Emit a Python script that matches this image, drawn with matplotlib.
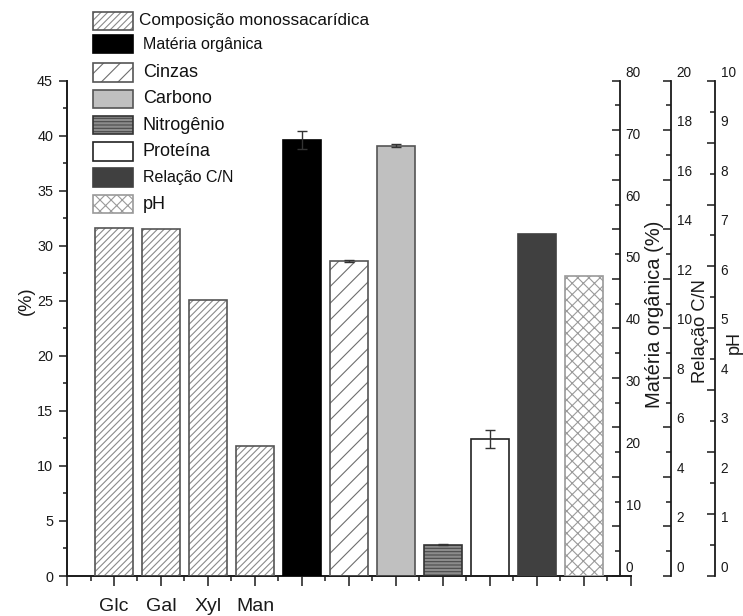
import matplotlib
matplotlib.use("Agg")
import matplotlib.pyplot as plt
import numpy as np
from matplotlib.patches import Rectangle
from matplotlib.ticker import MultipleLocator
from matplotlib.transforms import ScaledTranslation

plt.rcParams["font.family"] = ["Liberation Sans", "DejaVu Sans"]
plt.rcParams["hatch.linewidth"] = 0.8

# ---------------- data ----------------
sugar_labels = ["Glc", "Gal", "Xyl", "Man"]
sugar_pct = [31.6, 31.5, 25.1, 11.8]          # composição monossacarídica (%)

organic_matter = [70.4]                        # matéria orgânica (%) - eixo próprio
organic_matter_err = [1.5]
ash = [28.6]                                   # cinzas (%)
ash_err = [0.1]
carbon = [39.1]                                # carbono (%)
carbon_err = [0.12]
nitrogen = [2.84]                              # nitrogênio (%)
nitrogen_err = [0.05]
protein = [12.45]                              # proteína (%)
protein_err = [0.85]
cn_ratio = [13.8]                              # relação C/N
ph_value = [6.05]                              # pH

series_names = ["Composição monossacarídica", "Matéria orgânica", "Cinzas",
                "Carbono", "Nitrogênio", "Proteína", "Relação C/N", "pH"]

# ---------------- styles ----------------
W = 0.8
styles = {
    "Composição monossacarídica": dict(face="white", hcol="#8a8a8a", hatch="/////", edge="#555555", lw=1.2),
    "Matéria orgânica": dict(face="black", hcol=None, hatch=None, edge="black", lw=1.2),
    "Cinzas": dict(face="white", hcol="#6e6e6e", hatch="//", edge="#555555", lw=1.2),
    "Carbono": dict(face="#c0c0c0", hcol=None, hatch=None, edge="#555555", lw=1.2),
    "Nitrogênio": dict(face="#8c8c8c", hcol="#4a4a4a", hatch="-----", edge="#333333", lw=1.2),
    "Proteína": dict(face="white", hcol=None, hatch=None, edge="#222222", lw=1.2),
    "Relação C/N": dict(face="#404040", hcol=None, hatch=None, edge="#404040", lw=1.2),
    "pH": dict(face="white", hcol="#9a9a9a", hatch="xxx", edge="#9a9a9a", lw=1.2),
}

FW, FH = 743, 616
fig = plt.figure(figsize=(FW / 100, FH / 100), dpi=100)
ax = fig.add_axes([67 / FW, 1 - 576 / FH, 564 / FW, 495.3 / FH])

SPINE_COL = "#1a1a1a"


def draw_bars(axis, xs, hs, name, err=None):
    st = styles[name]
    if st["hatch"]:
        axis.bar(xs, hs, W, color=st["face"], edgecolor=st["hcol"], hatch=st["hatch"],
                 linewidth=0, zorder=2)
    else:
        axis.bar(xs, hs, W, color=st["face"], linewidth=0, zorder=2)
    axis.bar(xs, hs, W, fill=False, edgecolor=st["edge"], linewidth=st["lw"], zorder=3)
    if err is not None:
        axis.errorbar(xs, hs, yerr=err, fmt="none", ecolor="#333333", elinewidth=1.0,
                      capsize=3.5, capthick=1.0, zorder=4)


# positions along the category axis
x_sugar = np.arange(1, len(sugar_pct) + 1)
x_om, x_ash, x_c, x_n, x_prot, x_cn, x_ph = [np.array([v]) for v in range(5, 12)]

ax.set_xlim(0, 12)
ax.set_ylim(0, 45)


def right_axis(pos, ylim, major, minor, lab_step, title, title_xy, title_size):
    tick_ax = ax.twinx()
    tick_ax.set_ylim(*ylim)
    for s in ("top", "left", "bottom"):
        tick_ax.spines[s].set_visible(False)
    tick_ax.spines["right"].set_position(("axes", pos))
    tick_ax.spines["right"].set_linewidth(1.3)
    tick_ax.spines["right"].set_color(SPINE_COL)
    tick_ax.yaxis.set_major_locator(MultipleLocator(major))
    tick_ax.yaxis.set_minor_locator(MultipleLocator(minor))
    tick_ax.tick_params(axis="y", which="major", direction="in", length=6, width=1.1,
                        color=SPINE_COL, labelright=False)
    tick_ax.tick_params(axis="y", which="minor", direction="in", length=3.3, width=1.1,
                        color=SPINE_COL)

    lab_ax = ax.twinx()
    lab_ax.set_ylim(*ylim)
    for s in lab_ax.spines.values():
        s.set_visible(False)
    lab_ax.spines["right"].set_position(("axes", pos))
    vals = np.arange(ylim[0], ylim[1] + lab_step / 2, lab_step)
    lab_ax.set_yticks(vals)
    lab_ax.set_yticklabels([f"{v:g}" for v in vals])
    lab_ax.tick_params(axis="y", length=0, pad=4, labelsize=9.8, labelcolor="#1a1a1a")
    shift = ScaledTranslation(0, 9.5 / 100, fig.dpi_scale_trans)
    for t in lab_ax.get_yticklabels():
        t.set_transform(t.get_transform() + shift)

    tick_ax.set_ylabel(title, fontsize=title_size, color="#1a1a1a")
    lbl = tick_ax.yaxis.label
    lbl.set_rotation_mode("default")
    lbl.set_verticalalignment("center")
    lbl.set_horizontalalignment("center")
    tick_ax.yaxis.set_label_coords(*title_xy)
    return tick_ax


ax_om = right_axis((620 - 67) / 564, (0, 80), 8, 4, 10, "Matéria orgânica (%)",
                   ((655 - 67) / 564, (576 - 314) / 495.3), 14.5)
ax_cn = right_axis((671 - 67) / 564, (0, 20), 2, 1, 2, "Relação C/N",
                   ((701 - 67) / 564, (576 - 331) / 495.3), 13.2)
ax_ph = right_axis((715 - 67) / 564, (0, 10), 1.25, 0.625, 1, "pH",
                   ((734 - 67) / 564, (576 - 342) / 495.3), 13)

# bars
draw_bars(ax, x_sugar, sugar_pct, "Composição monossacarídica")
draw_bars(ax_om, x_om, organic_matter, "Matéria orgânica", organic_matter_err)
draw_bars(ax, x_ash, ash, "Cinzas", ash_err)
draw_bars(ax, x_c, carbon, "Carbono", carbon_err)
draw_bars(ax, x_n, nitrogen, "Nitrogênio", nitrogen_err)
draw_bars(ax, x_prot, protein, "Proteína", protein_err)
draw_bars(ax_cn, x_cn, cn_ratio, "Relação C/N")
draw_bars(ax_ph, x_ph, ph_value, "pH")

# main axes styling
for s in ("top", "right"):
    ax.spines[s].set_visible(False)
for s in ("left", "bottom"):
    ax.spines[s].set_linewidth(1.4)
    ax.spines[s].set_color(SPINE_COL)

ax.yaxis.set_major_locator(MultipleLocator(5))
ax.yaxis.set_minor_locator(MultipleLocator(2.5))
ax.set_xticks(np.arange(0, 13))
ax.set_xticklabels([""] + sugar_labels + [""] * 8)
ax.xaxis.set_minor_locator(MultipleLocator(0.5))
ax.tick_params(axis="y", which="major", direction="out", length=6, width=1.1,
               color=SPINE_COL, labelsize=10.4, pad=4, labelcolor="#1a1a1a")
ax.tick_params(axis="y", which="minor", direction="out", length=2.9, width=1.1, color=SPINE_COL)
ax.tick_params(axis="x", which="major", direction="out", length=7.2, width=1.1,
               color=SPINE_COL, labelsize=14, pad=8.5, labelcolor="#1a1a1a")
ax.tick_params(axis="x", which="minor", direction="out", length=3.4, width=1.1, color=SPINE_COL)

ax.set_ylabel("(%)", fontsize=13.2, color="#1a1a1a")
ax.yaxis.label.set_verticalalignment("center")
ax.yaxis.set_label_coords((26 - 67) / 564, (576 - 301) / 495.3)

# legend drawn in figure pixels
leg_centers = [20.8, 44.2, 72.5, 98.8, 125.2, 151.5, 177.5, 204.0]
leg_sizes = [12.3, 11.5, 13, 13, 13, 13, 11.5, 13]
leg_text_x = [139, 143, 143, 143, 143, 143, 143, 143]
for name, yc, fs, tx in zip(series_names, leg_centers, leg_sizes, leg_text_x):
    st = styles[name]
    xy = (93 / FW, 1 - (yc + 9.2) / FH)
    wh = (40 / FW, 18.4 / FH)
    if st["hatch"]:
        fig.add_artist(Rectangle(xy, *wh, transform=fig.transFigure, facecolor=st["face"],
                                 edgecolor=st["hcol"], hatch=st["hatch"], linewidth=0))
    else:
        fig.add_artist(Rectangle(xy, *wh, transform=fig.transFigure, facecolor=st["face"],
                                 linewidth=0))
    fig.add_artist(Rectangle(xy, *wh, transform=fig.transFigure, fill=False,
                             edgecolor=st["edge"], linewidth=st["lw"]))
    fig.text(tx / FW, 1 - yc / FH, name, fontsize=fs, va="center", ha="left", color="#111111")

fig.savefig("out.png", dpi=100)
